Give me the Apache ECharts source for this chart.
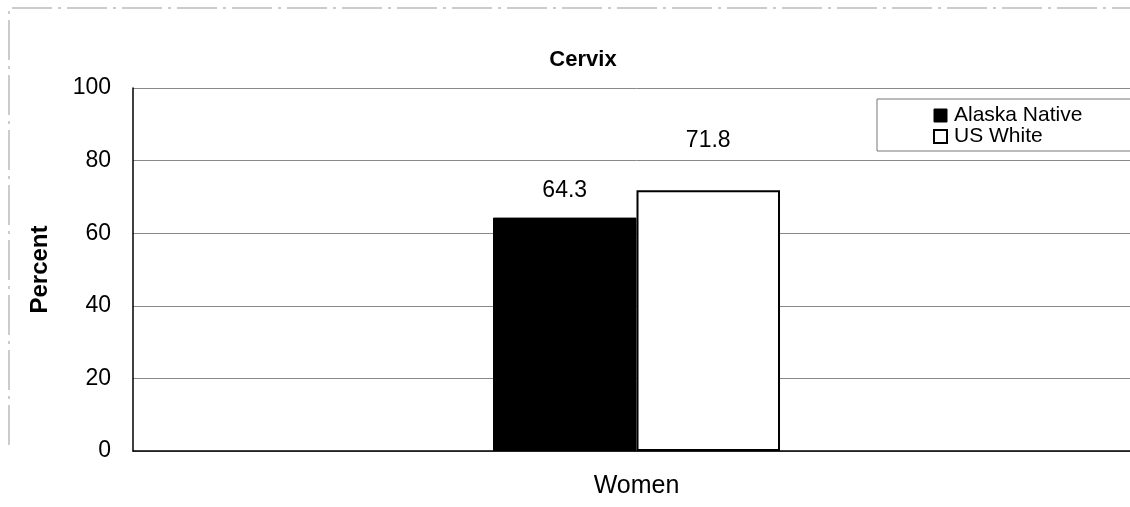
<!DOCTYPE html>
<html><head><meta charset="utf-8">
<script src="https://cdn.jsdelivr.net/npm/echarts@6/dist/echarts.min.js"></script>
<style>html,body{margin:0;padding:0;background:#fff;overflow:hidden;width:1130px;height:507px}#c{width:1140px;height:507px}</style>
</head><body><div id="c"></div>
<script>
const categories = ['Women'];
const seriesNames = ['Alaska Native', 'US White'];
const alaskaNative = [64.3];
const usWhite = [71.8];
const yTicks = [0, 20, 40, 60, 80, 100];

const F = '"Liberation Sans", Arial, sans-serif';
const chart = echarts.init(document.getElementById('c'));
chart.setOption({
  animation: false,
  backgroundColor: '#fff',
  title: { text: 'Cervix', left: 578, top: 44, textAlign: 'center',
    textStyle: { fontFamily: F, fontSize: 22, fontWeight: 'bold', color: '#000' } },
  grid: { left: 133, right: 0, top: 88, height: 363, containLabel: false },
  legend: {
    orient: 'vertical', left: 877, top: 99, padding: [6, 80, 4, 56],
    itemWidth: 13, itemHeight: 13, itemGap: 0,
    borderColor: '#777', borderWidth: 1,
    textStyle: { fontFamily: F, fontSize: 21, color: '#000', lineHeight: 20, padding: [0, 0, 0, 2] },
    data: [
      { name: seriesNames[0], icon: 'rect', itemStyle: { color: '#000', borderColor: '#000', borderWidth: 1 } },
      { name: seriesNames[1], icon: 'rect', itemStyle: { color: '#fff', borderColor: '#000', borderWidth: 2 } }
    ]
  },
  xAxis: {
    type: 'category', data: categories,
    axisLine: { lineStyle: { color: '#000', width: 1.5 } },
    axisTick: { show: false },
    axisLabel: { fontFamily: F, fontSize: 25, color: '#000', margin: 23 }
  },
  yAxis: {
    type: 'value', min: yTicks[0], max: yTicks[yTicks.length - 1], interval: 20,
    name: 'Percent', nameLocation: 'middle', nameGap: 81,
    nameTextStyle: { fontFamily: F, fontSize: 24, fontWeight: 'bold', color: '#000' },
    axisLine: { show: true, lineStyle: { color: '#000', width: 1.5 } },
    axisTick: { show: false },
    axisLabel: { fontFamily: F, fontSize: 23, color: '#000', margin: 22 },
    splitLine: { lineStyle: { color: '#888', width: 1 } }
  },
  series: [
    { name: seriesNames[0], type: 'bar', barGap: '0%', barCategoryGap: '71.5%',
      itemStyle: { color: '#000', borderColor: '#000', borderWidth: 1 },
      label: { show: true, position: 'top', distance: 15, fontFamily: F, fontSize: 23, color: '#000' },
      data: alaskaNative },
    { name: seriesNames[1], type: 'bar',
      itemStyle: { color: '#fff', borderColor: '#000', borderWidth: 2 },
      label: { show: true, position: 'top', distance: 38, fontFamily: F, fontSize: 23, color: '#000' },
      data: usWhite }
  ],
  graphic: [
    { type: 'polyline', shape: { points: [[9, 445], [9, 8], [1140, 8]] },
      style: { stroke: '#999', lineWidth: 1, lineDash: [40, 6, 3, 6], fill: null } }
  ]
});
</script></body></html>
